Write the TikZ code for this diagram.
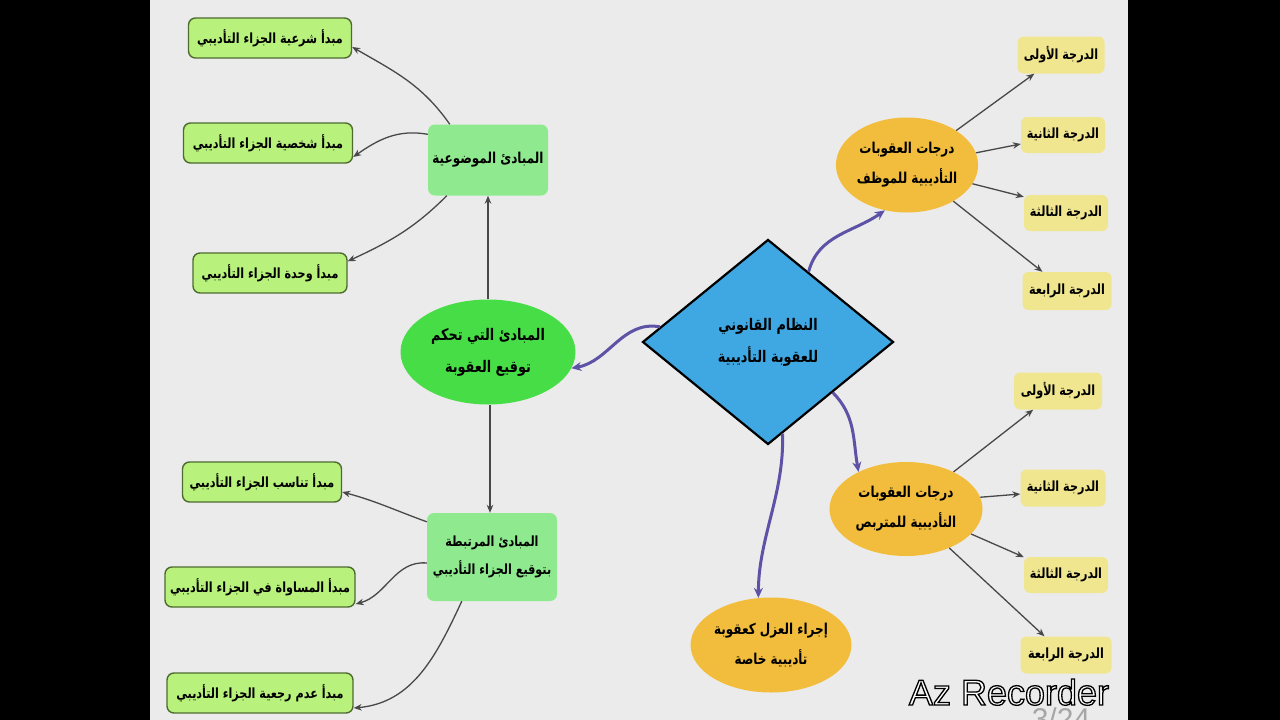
\documentclass[tikz,border=0pt]{standalone}
\usepackage{fontspec}
\setmainfont{Liberation Sans}
\newfontfamily\arabicfont[Script=Arabic, FakeStretch=0.8]{DejaVu Sans}
\TeXXeTstate=1
\usetikzlibrary{shapes.geometric,arrows.meta}
\newcommand\rtltext[1]{\beginR #1\endR}
\definecolor{bgcol}{HTML}{EBEBEB}
\definecolor{lbfill}{HTML}{B8F27C}
\definecolor{lbdraw}{HTML}{4E6B30}
\definecolor{mfill}{HTML}{8FEA8F}
\definecolor{efill}{HTML}{47DD47}
\definecolor{dfill}{HTML}{3FA7E2}
\definecolor{ofill}{HTML}{F2BD3C}
\definecolor{yfill}{HTML}{F1E690}
\definecolor{pcol}{HTML}{5D52A6}
\definecolor{gcol}{HTML}{484848}
\tikzset{
  artext/.style={font=\arabicfont\bfseries\fontsize{#1}{\numexpr#1*2\relax}\selectfont, text=black, align=center, inner sep=0pt},
  lbox/.style={artext=14, draw=lbdraw, line width=1.4pt, fill=lbfill, rounded corners=7pt, minimum height=40pt},
  mbox/.style={fill=mfill, rounded corners=7pt},
  oell/.style={ellipse, fill=ofill},
  ybox/.style={artext=14, fill=yfill, rounded corners=6pt},
  garrow/.style={draw=gcol, line width=1.3pt, -{Stealth[length=8pt,width=6.5pt]}},
  parrow/.style={draw=pcol, line width=3pt, -{Stealth[length=10pt,width=9pt]}},
}
\begin{document}
\begin{tikzpicture}[x=1pt,y=1pt]
\useasboundingbox (0,0) rectangle (1280,-720);
\fill[black] (0,0) rectangle (1280,-720);
\fill[bgcol] (150,0) rectangle (1128,-720);
% left principle boxes
\node[lbox, minimum width=163pt] (L1) at (270,-38) {\rtltext{مبدأ شرعية الجزاء التأديبي}};
\node[lbox, minimum width=169pt] (L2) at (268,-143) {\rtltext{مبدأ شخصية الجزاء التأديبي}};
\node[lbox, minimum width=154pt] (L3) at (270,-273) {\rtltext{مبدأ وحدة الجزاء التأديبي}};
\node[lbox, minimum width=159pt] (L4) at (262,-482) {\rtltext{مبدأ تناسب الجزاء التأديبي}};
\node[lbox, minimum width=190pt] (L5) at (260,-587) {\rtltext{مبدأ المساواة في الجزاء التأديبي}};
\node[lbox, minimum width=186pt] (L6) at (260,-693) {\rtltext{مبدأ عدم رجعية الجزاء التأديبي}};
% middle boxes
\node[mbox, artext=15, minimum width=120pt, minimum height=71pt] (M1) at (488,-160) {\rtltext{المبادئ الموضوعية}};
\node[mbox, artext=14, minimum width=130pt, minimum height=88pt] (M2) at (492,-557) {\rtltext{المبادئ المرتبطة}\\\rtltext{بتوقيع الجزاء التأديبي}};
\node[artext=16, ellipse, fill=efill, minimum width=175pt, minimum height=105pt] (E) at (488,-352) {\rtltext{المبادئ التي تحكم}\\\rtltext{توقيع العقوبة}};
% central diamond
\node[artext=16, diamond, aspect=1.22, draw=black, line width=2.2pt, fill=dfill, minimum width=251pt, minimum height=205pt] (D) at (768,-342) {\rtltext{النظام القانوني}\\\rtltext{للعقوبة التأديبية}};
% orange ellipses
\node[oell, artext=15, minimum width=135pt, minimum height=95pt] (O1) at (907,-165) {\rtltext{درجات العقوبات}\\\rtltext{التأديبية للموظف}};
\node[oell, artext=15, minimum width=153pt, minimum height=94pt] (O2) at (906,-509) {\rtltext{درجات العقوبات}\\\rtltext{التأديبية للمتربص}};
\node[oell, artext=15, minimum width=157pt, minimum height=95pt] (O3) at (771,-645) {\rtltext{إجراء العزل كعقوبة}\\\rtltext{تأديبية خاصة}};
% degree boxes
\node[ybox, minimum width=87pt, minimum height=37pt] (R1) at (1061,-55) {\rtltext{الدرجة الأولى}};
\node[ybox, minimum width=84pt, minimum height=36pt] (R2) at (1063,-135) {\rtltext{الدرجة الثانية}};
\node[ybox, minimum width=84pt, minimum height=36pt] (R3) at (1066,-213) {\rtltext{الدرجة الثالثة}};
\node[ybox, minimum width=89pt, minimum height=38pt] (R4) at (1067,-291) {\rtltext{الدرجة الرابعة}};
\node[ybox, minimum width=88pt, minimum height=37pt] (S1) at (1058,-391) {\rtltext{الدرجة الأولى}};
\node[ybox, minimum width=85pt, minimum height=37pt] (S2) at (1063,-488) {\rtltext{الدرجة الثانية}};
\node[ybox, minimum width=84pt, minimum height=36pt] (S3) at (1066,-575) {\rtltext{الدرجة الثالثة}};
\node[ybox, minimum width=91pt, minimum height=37pt] (S4) at (1066,-655) {\rtltext{الدرجة الرابعة}};
% gray connectors, left
\draw[garrow] ([xshift=22pt]M1.north west) to[out=125,in=-30] ([yshift=-9pt]L1.east);
\draw[garrow] ([yshift=-10pt]M1.north west) to[out=170,in=35] ([yshift=-14pt]L2.east);
\draw[garrow] ([xshift=19pt]M1.south west) to[out=-135,in=25] ([yshift=-9pt]L3.north east);
\draw[garrow] (E.north) -- (M1.south);
\draw[garrow] ([xshift=2pt]E.south) -- ([xshift=2pt]E.south |- M2.north);
\draw[garrow] ([yshift=-9pt]M2.north west) to[out=160,in=-15] ([yshift=-10pt]L4.east);
\draw[garrow] ([yshift=-6pt]M2.west) to[out=175,in=15] ([yshift=-17pt]L5.east);
\draw[garrow] ([xshift=35pt]M2.south west) to[out=-115,in=5] ([yshift=-15pt]L6.east);
% gray connectors, right
\draw[garrow] (O1.35) -- (R1.-145);
\draw[garrow] (O1.10) -- (R2.-168);
\draw[garrow] (O1.-16) -- (R3.159);
\draw[garrow] (O1.-38) -- (R4.142);
\draw[garrow] (O2.38) -- (S1.-143);
\draw[garrow] (O2.9) -- (S2.-172);
\draw[garrow] (O2.-21) -- (S3.157);
\draw[garrow] (O2.-42) -- (S4.139);
% purple connectors from the diamond
\draw[parrow] (D.172) to[out=170,in=10] (E.-11);
\draw[parrow] (D.60) to[out=75,in=-145] (O1.-116);
\draw[parrow] (D.-38) to[out=-45,in=100] (O2.142);
\draw[parrow] (D.-81) .. controls +(2,-60) and +(0,60) .. (O3.105);
% recorder overlay
\node[font=\fontsize{30}{30}\selectfont, text=gray!70, anchor=north, inner sep=0pt, text height=22pt] (pg) at (1061,-707) {3/24};
\node[font=\fontsize{36}{36}\selectfont, text=white, inner sep=0pt, text depth=0pt, anchor=base] (wm) at (1009,-705) {\special{pdf:literal direct 2 Tr 1.3 w 0 0 0 RG}Az Recorder\special{pdf:literal direct 0 Tr}};
\end{tikzpicture}
\end{document}
